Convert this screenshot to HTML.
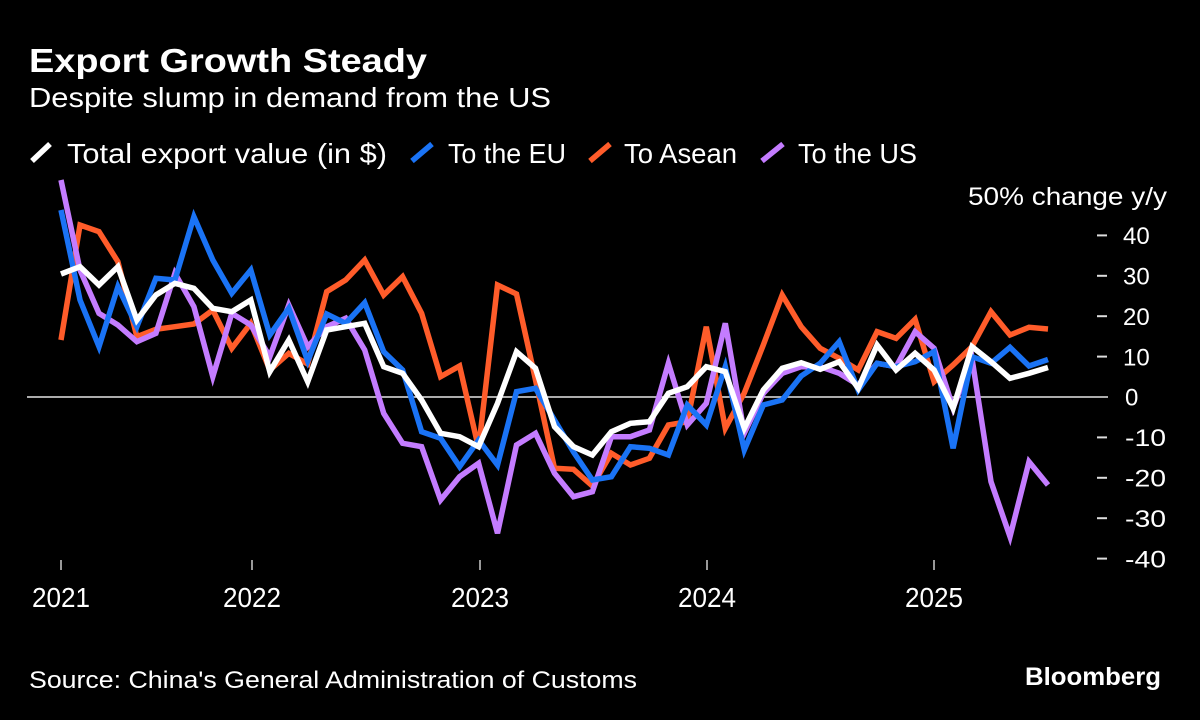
<!DOCTYPE html>
<html>
<head>
<meta charset="utf-8">
<style>
html,body{margin:0;padding:0;background:#000;}
svg{display:block;}
text{font-family:"Liberation Sans",sans-serif;fill:#fff;}
</style>
</head>
<body>
<svg width="1200" height="720" viewBox="0 0 1200 720" xmlns="http://www.w3.org/2000/svg">
<rect x="0" y="0" width="1200" height="720" fill="#000"/>

<!-- Title & subtitle -->
<text x="29" y="72" font-size="33" font-weight="bold" textLength="398" lengthAdjust="spacingAndGlyphs">Export Growth Steady</text>
<text x="29" y="107" font-size="28" textLength="522" lengthAdjust="spacingAndGlyphs">Despite slump in demand from the US</text>

<!-- Legend -->
<line x1="32" y1="161" x2="50" y2="144" stroke="#fff" stroke-width="5.5"/>
<text x="67" y="163" font-size="28" textLength="320" lengthAdjust="spacingAndGlyphs">Total export value (in $)</text>
<line x1="412" y1="161" x2="432" y2="144" stroke="#1a73f5" stroke-width="5.5"/>
<text x="448" y="163" font-size="28" textLength="118" lengthAdjust="spacingAndGlyphs">To the EU</text>
<line x1="590" y1="161" x2="610" y2="144" stroke="#ff5c2a" stroke-width="5.5"/>
<text x="624" y="163" font-size="28" textLength="113" lengthAdjust="spacingAndGlyphs">To Asean</text>
<line x1="762" y1="161" x2="783" y2="144" stroke="#c47cff" stroke-width="5.5"/>
<text x="798" y="163" font-size="28" textLength="119" lengthAdjust="spacingAndGlyphs">To the US</text>

<!-- Axis title -->
<text x="968" y="205" font-size="25" textLength="199" lengthAdjust="spacingAndGlyphs">50% change y/y</text>

<!-- Y ticks & labels -->
<g stroke="#ddd" stroke-width="2">
<line x1="1097" y1="235.4" x2="1107" y2="235.4"/>
<line x1="1097" y1="275.8" x2="1107" y2="275.8"/>
<line x1="1097" y1="316.2" x2="1107" y2="316.2"/>
<line x1="1097" y1="356.6" x2="1107" y2="356.6"/>
<line x1="1097" y1="437.4" x2="1107" y2="437.4"/>
<line x1="1097" y1="477.8" x2="1107" y2="477.8"/>
<line x1="1097" y1="518.2" x2="1107" y2="518.2"/>
<line x1="1097" y1="558.6" x2="1107" y2="558.6"/>
</g>
<g font-size="24">
<text x="1123" y="244">40</text>
<text x="1123" y="284.5">30</text>
<text x="1123" y="325">20</text>
<text x="1123" y="365.5">10</text>
<text x="1125" y="405.5">0</text>
<text x="1125" y="446" textLength="41" lengthAdjust="spacingAndGlyphs">-10</text>
<text x="1125" y="486.5" textLength="41" lengthAdjust="spacingAndGlyphs">-20</text>
<text x="1125" y="527" textLength="41" lengthAdjust="spacingAndGlyphs">-30</text>
<text x="1125" y="567.5" textLength="41" lengthAdjust="spacingAndGlyphs">-40</text>
</g>

<!-- Zero line -->
<line x1="27" y1="397" x2="1108" y2="397" stroke="#e6e6e6" stroke-width="1.6"/>

<!-- X ticks & labels -->
<g stroke="#ccc" stroke-width="1.5">
<line x1="61" y1="560" x2="61" y2="570"/>
<line x1="252" y1="560" x2="252" y2="570"/>
<line x1="480" y1="560" x2="480" y2="570"/>
<line x1="707" y1="560" x2="707" y2="570"/>
<line x1="934" y1="560" x2="934" y2="570"/>
</g>
<g font-size="28" text-anchor="middle">
<text x="61" y="607" textLength="58" lengthAdjust="spacingAndGlyphs">2021</text>
<text x="252" y="607" textLength="58" lengthAdjust="spacingAndGlyphs">2022</text>
<text x="480" y="607" textLength="58" lengthAdjust="spacingAndGlyphs">2023</text>
<text x="707" y="607" textLength="58" lengthAdjust="spacingAndGlyphs">2024</text>
<text x="934" y="607" textLength="58" lengthAdjust="spacingAndGlyphs">2025</text>
</g>

<!-- Series -->
<g fill="none" stroke-width="5.5" stroke-linejoin="miter" stroke-miterlimit="4">
<!-- Asean (orange) -->
<polyline stroke="#ff5c2a" points="61,340 80,225 99,231.7 117.9,261.7 136.9,336.7 155.9,329.3 174.9,326.7 193.9,324 212.8,310 231.8,348.3 250.8,323.3 269.8,370 288.8,353.3 307.7,364 326.7,291.7 345.7,280 364.7,260 383.7,295 402.6,276.7 421.6,313.3 440.6,376.7 459.6,366 478.6,448.3 497.5,285 516.5,294 535.5,380 554.5,468.3 573.5,469.3 592.4,486 611.4,453.3 630.4,465 649.4,458.3 668.4,425 687.3,421.7 706.3,326.7 725.3,428.3 744.3,393 763.3,345 782.2,295 801.2,326.7 820.2,348.3 839.2,358.3 858.2,370 877.1,331.7 896.1,338.3 915.1,319.3 934.1,381.7 953.1,365 972,346.7 991,311.7 1010,335 1029,327.3 1048,329"/>
<!-- US (purple) -->
<polyline stroke="#c47cff" points="61,180 80,270 99,313.3 117.9,325 136.9,341.7 155.9,333.3 174.9,273.3 193.9,306.7 212.8,376.7 231.8,313.3 250.8,325 269.8,356.7 288.8,305 307.7,346.7 326.7,326.7 345.7,318.3 364.7,350 383.7,413.3 402.6,443.3 421.6,446.7 440.6,500 459.6,476.7 478.6,463.3 497.5,533.3 516.5,445 535.5,433.3 554.5,473.3 573.5,496.7 592.4,491.7 611.4,436.7 630.4,436.7 649.4,430 668.4,363.3 687.3,425 706.3,403.3 725.3,323.3 744.3,433.3 763.3,393.3 782.2,373.3 801.2,366.7 820.2,366.7 839.2,373.3 858.2,385 877.1,363.3 896.1,366.7 915.1,331.7 934.1,348.3 953.1,408 972,358.3 991,481.7 1010,536.7 1029,461.7 1048,485"/>
<!-- EU (blue) -->
<polyline stroke="#1a73f5" points="61,210 80,300 99,346.7 117.9,286.7 136.9,326.7 155.9,278.3 174.9,280 193.9,216.7 212.8,260 231.8,293.3 250.8,270 269.8,335 288.8,308.3 307.7,361 326.7,314 345.7,323.3 364.7,302.7 383.7,351.7 402.6,370 421.6,431.7 440.6,438.3 459.6,466.7 478.6,440 497.5,465 516.5,391.7 535.5,388.3 554.5,420 573.5,452 592.4,480 611.4,476.7 630.4,446.7 649.4,448.3 668.4,455 687.3,405 706.3,425 725.3,366.7 744.3,450 763.3,405 782.2,400 801.2,376 820.2,363.3 839.2,341.7 858.2,390 877.1,363.3 896.1,366.7 915.1,361.7 934.1,351.7 953.1,448.3 972,356.7 991,363.3 1010,347.3 1029,366 1048,359.5"/>
<!-- Total (white) -->
<polyline stroke="#ffffff" points="61,274 80,266.7 99,285 117.9,266.7 136.9,320 155.9,295 174.9,283.3 193.9,288.3 212.8,308.3 231.8,311.7 250.8,300 269.8,371.7 288.8,340 307.7,381.7 326.7,330 345.7,326.7 364.7,323.3 383.7,366.7 402.6,373.3 421.6,400 440.6,433.3 459.6,436.7 478.6,446.7 497.5,403.3 516.5,351.7 535.5,368.3 554.5,426.7 573.5,446.7 592.4,455 611.4,431.7 630.4,423.3 649.4,421.7 668.4,393.3 687.3,386.7 706.3,366.7 725.3,371.7 744.3,428.3 763.3,390 782.2,368.3 801.2,362.7 820.2,369.3 839.2,361.7 858.2,388.3 877.1,345 896.1,370 915.1,353.3 934.1,370 953.1,408.3 972,346.7 991,361.7 1010,378.3 1029,373.3 1048,367.5"/>
</g>

<!-- Footer -->
<text x="29" y="688" font-size="24" textLength="608" lengthAdjust="spacingAndGlyphs">Source: China's General Administration of Customs</text>
<text x="1025" y="685" font-size="25" font-weight="bold" textLength="136" lengthAdjust="spacingAndGlyphs">Bloomberg</text>
</svg>
</body>
</html>
